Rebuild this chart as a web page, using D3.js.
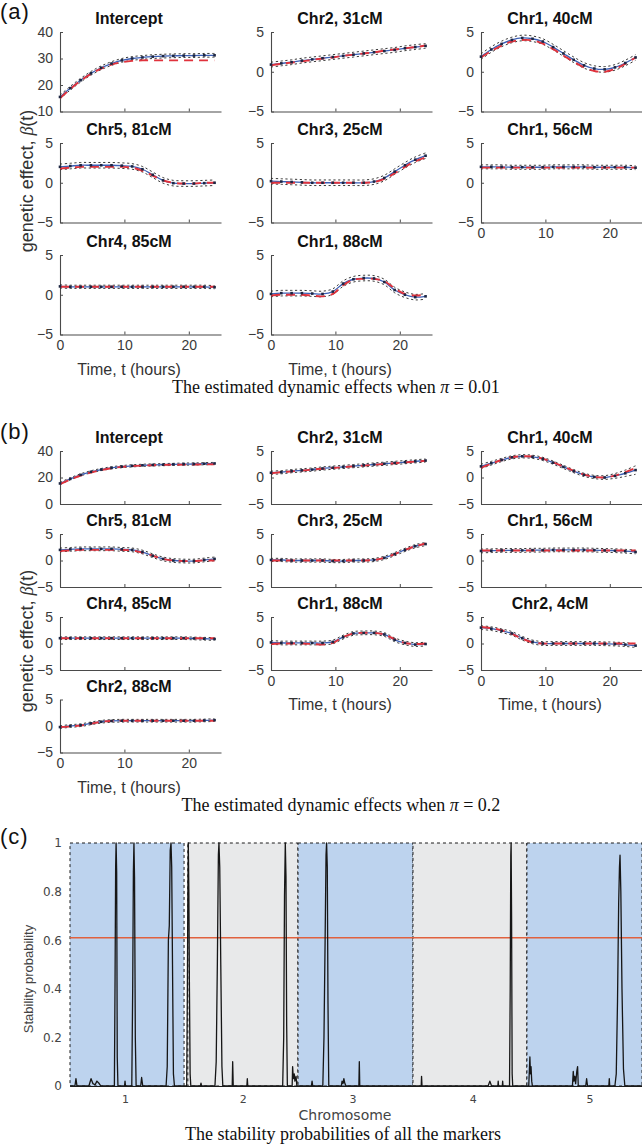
<!DOCTYPE html>
<html><head><meta charset="utf-8">
<script src="https://cdn.jsdelivr.net/npm/d3@7/dist/d3.min.js"></script>
<style>html,body{margin:0;padding:0;background:#fff}svg{display:block}</style>
</head><body>
<svg id="fig" width="642" height="1145"></svg>
<script>
// ================= DATA =================
const times = [0,1.6,3.2,4.8,6.4,8,9.6,11.2,12.8,14.4,16,17.6,19.2,20.8,22.4,24];
const timeTicks = [0,10,20];
const effectTicks = [-5,0,5];
const aInterceptTicks = [10,20,30,40];
const bInterceptTicks = [0,20,40];

// ---- panel (a): pi = 0.01 ----
const aTitles = ["Intercept","Chr5, 81cM","Chr4, 85cM","Chr2, 31cM","Chr3, 25cM","Chr1, 88cM","Chr1, 40cM","Chr1, 56cM"];
const aIntTrue  = [15,18.5,21.6,24.2,26.2,27.7,28.6,29.1,29.3,29.3,29.3,29.3,29.3,29.3,29.3,29.3];
const aIntEst   = [15.5,18.8,21.8,24.4,26.5,28.1,29.3,30,30.4,30.7,30.9,31,31.1,31.1,31.2,31.2];
const aC5True   = [1.8,1.9,2.0,2.0,2.0,2.0,2.0,1.9,1.5,0.9,0.3,0,-0.1,-0.1,0,0];
const aC5Est    = [2.0,2.1,2.2,2.2,2.2,2.2,2.15,2.05,1.7,1.0,0.3,-0.05,-0.1,-0.1,-0.05,0];
const aC4True   = [1,1,1,1,1,1,1,1,1,1,1,1,1,1,1,1];
const aC4Est    = [1.05,1.0,1.0,1.0,1.0,1.0,1.0,1.0,1.0,1.0,1.0,1.0,1.0,1.0,1.0,0.95];
const aC2_31True= [0.8,1.0,1.15,1.3,1.5,1.65,1.8,2.0,2.15,2.3,2.45,2.65,2.8,2.95,3.1,3.3];
const aC2_31Est = [0.9,1.05,1.2,1.4,1.55,1.7,1.85,2.0,2.15,2.3,2.45,2.6,2.75,2.95,3.1,3.25];
const aC3True   = [0,0,0,0,0,0,0,0,0,0,0.1,0.5,1.2,2.0,2.7,3.2];
const aC3Est    = [0.2,0.15,0.1,0.05,0,0,0,0,0,0,0.15,0.6,1.4,2.2,2.9,3.4];
const aC1_88True= [-0.1,0,0,0,-0.1,-0.2,0.1,1.2,1.9,2.0,2.0,1.7,0.8,0.1,-0.1,0];
const aC1_88Est = [0.1,0.2,0.2,0.2,0.15,0.1,0.4,1.4,1.95,2.1,2.05,1.6,0.6,0,-0.3,-0.2];
const aC1_40True= [1.8,2.6,3.3,3.8,4.0,3.95,3.55,2.85,2.05,1.25,0.55,0.1,0.0,0.35,1.0,1.8];
const aC1_40Est = [1.9,2.8,3.5,4.0,4.25,4.15,3.8,3.1,2.3,1.5,0.8,0.4,0.3,0.55,1.1,1.8];
const aC1_56True= [1.9,1.9,1.9,1.9,1.9,1.9,1.9,1.9,1.9,1.9,1.9,1.9,1.9,1.9,1.9,1.9];
const aC1_56Est = [2.0,2.0,2.0,1.95,1.95,1.95,1.95,2.0,2.0,2.0,2.0,1.95,1.95,1.95,1.95,1.9];
const aCI = [0.7,0.35,0.2,0.3,0.35,0.35,0.35,0.25];

// ---- panel (b): pi = 0.2 ----
const bTitles = ["Intercept","Chr5, 81cM","Chr4, 85cM","Chr2, 88cM","Chr2, 31cM","Chr3, 25cM","Chr1, 88cM","Chr1, 40cM","Chr1, 56cM","Chr2, 4cM"];
const bIntTrue  = [15,18.5,21.5,23.8,25.6,27,28,28.6,29,29.3,29.5,29.6,29.7,29.8,29.9,30];
const bIntEst   = [15.5,19,22,24.3,26,27.3,28.2,28.8,29.2,29.5,29.7,29.9,30.1,30.2,30.4,30.6];
const bC5True   = [1.8,1.9,2.0,2.0,2.0,2.0,2.0,1.9,1.5,0.9,0.3,0,-0.1,-0.1,0,0];
const bC5Est    = [2.0,2.1,2.2,2.2,2.2,2.2,2.1,2.0,1.6,0.9,0.3,0,-0.1,-0.1,0.1,0.3];
const bC4True   = [1,1,1,1,1,1,1,1,1,1,1,1,1,1,1,1];
const bC4Est    = [1.0,1.0,1.0,1.0,1.0,1.0,1.0,1.0,1.0,1.0,1.0,1.0,1.0,0.95,0.9,0.85];
const bC2_88True= [-0.2,-0.1,0.1,0.4,0.8,0.95,1,1,1,1,1,1,1,1,1,1];
const bC2_88Est = [-0.2,0,0.15,0.5,0.8,0.95,1.0,1.0,1.0,1.0,1.0,1.0,1.0,1.0,1.05,1.1];
const bC2_31True= [0.8,1.0,1.15,1.3,1.5,1.65,1.8,1.95,2.1,2.25,2.4,2.55,2.7,2.85,3.0,3.15];
const bC2_31Est = [0.9,1.0,1.2,1.35,1.5,1.7,1.85,2.0,2.15,2.3,2.45,2.6,2.75,2.9,3.05,3.2];
const bC3True   = [0,0,0,0,0,0,0,0,0,0,0.1,0.5,1.2,2.0,2.7,3.2];
const bC3Est    = [0.1,0.1,0,0,0,0,-0.1,-0.1,0,0,0.1,0.5,1.2,2.0,2.7,3.1];
const bC1_88True= [-0.1,0,0,0,-0.1,-0.2,0.1,1.2,1.9,2.0,2.0,1.7,0.8,0.1,-0.1,0];
const bC1_88Est = [0.2,0.1,0.1,0.1,0.1,0.1,0.3,1.2,1.9,2.0,2.0,1.7,0.7,0.1,-0.2,-0.1];
const bC1_40True= [1.8,2.6,3.3,3.8,4.0,3.95,3.55,2.85,2.05,1.25,0.55,0.1,0.0,0.35,1.0,1.8];
const bC1_40Est = [2.1,2.7,3.3,3.8,4.0,3.9,3.5,2.8,2.0,1.2,0.5,0.1,0.0,0.3,0.8,1.4];
const bC1_56True= [1.9,1.9,1.9,1.9,1.9,1.9,1.9,1.9,1.9,1.9,1.9,1.9,1.9,1.9,1.9,1.9];
const bC1_56Est = [1.8,1.85,1.9,1.9,1.9,1.95,1.95,2.0,2.0,2.0,2.0,1.95,1.9,1.85,1.75,1.6];
const bC2_4True = [3.1,2.9,2.5,1.8,0.9,0.2,0,0,0,0,0,0,0,0,0,0];
const bC2_4Est  = [3.0,2.8,2.4,1.9,1.0,0.3,0,0,0,0,0,0,-0.05,-0.1,-0.2,-0.4];
const bCI = [0.8,0.35,0.25,0.25,0.3,0.3,0.35,0.45,0.35,0.35];
const bC1_40CI = [0.4,0.35,0.3,0.3,0.3,0.3,0.3,0.3,0.3,0.3,0.3,0.3,0.35,0.45,0.6,0.8];

// ---- panel (c): stability probabilities (genome position, chromosome i spans ~[(i-1)*100, i*100]) ----
const chrLabels = ["1","2","3","4","5"];
const chrTickPos = [48,151,247,352,454];
const chrStart = [0,103,199.3,299.8,399.4];
const chrEnd   = [99.7,199.3,299.8,399.4,500];
const threshold = 0.61;
const probTicks = [0,0.2,0.4,0.6,0.8,1];
const markerPos = [
 0,4.3,5.2,6.1,16.5,18.4,20,22,23.5,25.5,27,38.8,39.4,39.9,40.3,40.8,41.3,41.9,47.7,48.1,48.5,
 54,54.8,55.4,55.9,56.4,57.1,57.8,61.8,62.6,63.6,84,85,86,86.8,87.6,88.3,88.9,89.6,90.4,91.3,
 102,102.6,103,103.4,103.9,104.4,105,105.6,114,114.5,115,126.7,127.8,128.8,129.7,130.2,130.9,131.8,132.8,133.6,
 141.8,142.2,142.7,154.6,155,155.4,185.9,186.8,187.5,188.2,188.8,189.4,190,194.2,194.6,195.2,196,196.6,197.6,198.3,
 211,211.6,212.2,221,222,223,223.8,224.3,224.9,225.5,226.2,237.2,237.8,238.6,239.4,240.3,241.2,252.5,252.9,253.3,
 307,307.3,307.7,365.5,367,368.5,374,374.3,374.6,377.9,378.2,378.5,384.2,384.8,385.3,385.6,386,386.5,387,
 401,401.5,402,402.5,403,403.6,404.2,439.2,439.9,440.5,441.3,442,443,443.7,444.3,450.8,451.6,452.4,471,471.4,471.8,
 476.3,477.5,478.6,479.6,480.3,480.8,481.5,482.5,483.8,485,500];
const markerProb = [
 0,0,0.03,0,0,0.03,0.01,0.005,0.02,0.01,0,0,0.45,0.9,1,0.88,0.12,0,0,0.02,0,
 0,0.4,0.88,1,0.86,0.2,0,0,0.035,0,0,0.08,0.6,0.66,0.97,1,0.9,0.5,0.05,0,
 0,0.4,0.78,1,0.8,0.4,0.05,0,0,0.012,0,0,0.1,0.5,0.95,1,0.9,0.5,0.08,0,
 0,0.1,0,0,0.03,0,0,0.2,0.78,1,0.86,0.25,0,0,0.08,0.03,0.05,0.02,0.04,0,
 0,0.02,0,0,0.2,0.6,0.95,1,0.9,0.35,0,0,0.02,0.01,0.03,0.01,0,0,0.1,0,
 0,0.04,0,0,0.02,0,0,0.02,0,0,0.02,0,0,0.4,0.95,1,0.7,0.05,0,
 0,0.06,0.12,0.05,0.08,0.02,0,0,0.06,0.02,0.04,0.01,0.06,0.08,0,0,0.03,0,0,0.03,0,
 0,0.05,0.35,0.75,0.9,0.95,0.8,0.4,0.07,0,0];

// ================= DRAWING =================
const svg = d3.select("#fig");
const SANS = "'Liberation Sans', Arial, Helvetica, sans-serif";
const SERIF = "'Liberation Serif', 'Times New Roman', serif";
const DEJAVU = "'DejaVu Sans', Verdana, sans-serif";
const colX = [60, 271, 481];
const plotW = 161;
const axisCol = "#4a4a4a";

function subplot(o){
  const g = svg.append("g");
  const x = d3.scaleLinear().domain([0,25]).range([o.x0, o.x0 + plotW]);
  const y = d3.scaleLinear().domain(o.yDomain).range([o.top + o.h, o.top]);

  g.append("text").attr("x", o.x0 + 69).attr("y", o.top - 8).attr("text-anchor","middle")
    .attr("font-family", SANS).attr("font-size", 16).attr("font-weight","bold").attr("fill","#111")
    .text(o.title);

  const ya = g.append("g").attr("transform", `translate(${o.x0},0)`)
    .call(d3.axisLeft(y).tickValues(o.yTicks).tickSizeInner(-3).tickSizeOuter(0).tickPadding(7));
  const xa = g.append("g").attr("transform", `translate(0,${o.top + o.h})`)
    .call(d3.axisBottom(x).tickValues(timeTicks).tickSizeInner(-3).tickSizeOuter(0).tickPadding(6)
      .tickFormat(o.showX ? d3.format("d") : () => ""));
  [ya, xa].forEach(a => {
    a.select(".domain").attr("stroke", axisCol).attr("stroke-width", 1.1);
    a.selectAll(".tick line").attr("stroke", axisCol);
    a.selectAll("text").attr("font-family", SANS).attr("font-size", 14).attr("fill", "#3a3a3a");
  });
  if (o.showXLabel) {
    g.append("text").attr("x", o.x0 + 69).attr("y", o.top + o.h + 40).attr("text-anchor","middle")
      .attr("font-family", SANS).attr("font-size", 16).attr("fill","#333").text("Time, t (hours)");
  }

  const line = d3.line().x((d,i) => x(times[i])).y(d => y(d)).curve(d3.curveCatmullRom.alpha(0.5));
  const ciAt = i => Array.isArray(o.ci) ? o.ci[i] : o.ci;
  const up = o.est.map((v,i) => v + ciAt(i));
  const lo = o.est.map((v,i) => v - ciAt(i));
  [up, lo].forEach(b => g.append("path").attr("d", line(b)).attr("fill","none")
    .attr("stroke","#222").attr("stroke-width",0.9).attr("stroke-dasharray","2.2,2.6"));
  g.append("path").attr("d", line(o.est)).attr("fill","none").attr("stroke","#3b5fb5").attr("stroke-width",1.3);
  g.append("path").attr("d", line(o.truth)).attr("fill","none").attr("stroke","#e0323c")
    .attr("stroke-width",1.9).attr("stroke-dasharray","9,6");
  g.selectAll("rect.m").data(o.est).join("rect").attr("class","m")
    .attr("x", (d,i) => x(times[i]) - 1.3).attr("y", d => y(d) - 1.3)
    .attr("width", 2.6).attr("height", 2.6).attr("fill", "#1d2642");
}

function panelLetter(txt, yb){
  svg.append("text").attr("x", 0).attr("y", yb).attr("font-family", SANS).attr("font-size", 22)
    .attr("fill","#111").attr("letter-spacing", 1).text(txt);
}
function yLabel(cy){
  const t = svg.append("text").attr("transform", `translate(33,${cy}) rotate(-90)`).attr("text-anchor","middle")
    .attr("font-family", SANS).attr("font-size", 18).attr("fill","#333");
  t.append("tspan").text("genetic effect, ");
  t.append("tspan").attr("font-family", SERIF).attr("font-style","italic").text("β");
  t.append("tspan").text("(t)");
}
function caption(txt, val, cx, yb){
  const t = svg.append("text").attr("x", cx).attr("y", yb).attr("text-anchor","middle")
    .attr("font-family", SERIF).attr("font-size", 18).attr("fill","#111");
  t.append("tspan").text(txt);
  t.append("tspan").attr("font-style","italic").text("π");
  t.append("tspan").text(" = " + val);
}

// ---- panel (a) ----
const aTrue = [aIntTrue,aC5True,aC4True,aC2_31True,aC3True,aC1_88True,aC1_40True,aC1_56True];
const aEst  = [aIntEst,aC5Est,aC4Est,aC2_31Est,aC3Est,aC1_88Est,aC1_40Est,aC1_56Est];
const aCol = [0,0,0,1,1,1,2,2], aRow = [0,1,2,0,1,2,0,1];
const aTops = [32,143,255], aH = 79.5;
const aLastRow = [2,2,1];
aTitles.forEach((t,k) => {
  const isInt = k === 0;
  subplot({title:t, truth:aTrue[k], est:aEst[k], ci:aCI[k],
    yDomain: isInt ? [10,40] : [-5,5], yTicks: isInt ? aInterceptTicks : effectTicks,
    x0: colX[aCol[k]], top: aTops[aRow[k]], h: aH,
    showX: aRow[k] === aLastRow[aCol[k]], showXLabel: aRow[k] === aLastRow[aCol[k]] && aCol[k] < 2});
});
panelLetter("(a)", 19);
yLabel(181);
caption("The estimated dynamic effects when ", "0.01", 336, 393);

// ---- panel (b) ----
const bTrue = [bIntTrue,bC5True,bC4True,bC2_88True,bC2_31True,bC3True,bC1_88True,bC1_40True,bC1_56True,bC2_4True];
const bEst  = [bIntEst,bC5Est,bC4Est,bC2_88Est,bC2_31Est,bC3Est,bC1_88Est,bC1_40Est,bC1_56Est,bC2_4Est];
const bCol = [0,0,0,0,1,1,1,2,2,2], bRow = [0,1,2,3,0,1,2,0,1,2];
const bTops = [451,534,617,699.5], bH = 53;
const bLastRow = [3,2,2];
bTitles.forEach((t,k) => {
  const isInt = k === 0;
  subplot({title:t, truth:bTrue[k], est:bEst[k], ci: k === 7 ? bC1_40CI : bCI[k],
    yDomain: isInt ? [0,40] : [-5,5], yTicks: isInt ? bInterceptTicks : effectTicks,
    x0: colX[bCol[k]], top: bTops[bRow[k]], h: bH,
    showX: bRow[k] === bLastRow[bCol[k]], showXLabel: bRow[k] === bLastRow[bCol[k]]});
});
panelLetter("(b)", 439);
yLabel(641);
caption("The estimated dynamic effects when ", "0.2", 341, 811);

// ---- panel (c) ----
(function(){
  const g = svg.append("g");
  const x = d3.scaleLinear().domain([0,500]).range([70,642]);
  const y = d3.scaleLinear().domain([0,1]).range([1086,843]);
  g.selectAll("rect.chr").data(chrStart).join("rect").attr("class","chr")
    .attr("x", d => x(d)).attr("y", y(1)).attr("width", (d,i) => x(chrEnd[i]) - x(d)).attr("height", y(0) - y(1))
    .attr("fill", (d,i) => i % 2 === 0 ? "#bdd3ee" : "#e8e9ea")
    .attr("stroke", "#1a1a1a").attr("stroke-width", 1).attr("stroke-dasharray", "3,3");
  g.append("line").attr("x1", x(0)).attr("x2", x(500)).attr("y1", y(threshold)).attr("y2", y(threshold))
    .attr("stroke", "#e0613e").attr("stroke-width", 1.3);
  const pts = markerPos.map((p,i) => [p, markerProb[i]]);
  g.append("path").attr("d", d3.line().x(d => x(d[0])).y(d => y(d[1]))(pts))
    .attr("fill","none").attr("stroke","#161616").attr("stroke-width",1.3).attr("stroke-linejoin","round");
  const xa = g.append("g").attr("transform", `translate(0,${y(0)})`)
    .call(d3.axisBottom(x).tickValues(chrTickPos).tickFormat((d,i) => chrLabels[i]).tickSize(0).tickPadding(9));
  xa.select(".domain").attr("stroke","#1a1a1a").attr("stroke-width",1.2);
  xa.selectAll("text").attr("font-family", DEJAVU).attr("font-size", 11).attr("fill","#444");
  const ya = g.append("g").attr("transform", `translate(${x(0) - 4},0)`)
    .call(d3.axisLeft(y).tickValues(probTicks).tickFormat(d3.format("~g")).tickSize(0).tickPadding(4));
  ya.select(".domain").remove();
  ya.selectAll("text").attr("font-family", DEJAVU).attr("font-size", 12).attr("fill","#444");
  g.append("text").attr("x", 345).attr("y", 1120).attr("text-anchor","middle")
    .attr("font-family", DEJAVU).attr("font-size", 14).attr("fill","#444").text("Chromosome");
  g.append("text").attr("transform", "translate(33,979) rotate(-90)").attr("text-anchor","middle")
    .attr("font-family", SANS).attr("font-size", 13).attr("fill","#444").text("Stability probability");
  g.append("text").attr("x", 343).attr("y", 1140).attr("text-anchor","middle")
    .attr("font-family", SERIF).attr("font-size", 18).attr("fill","#111").text("The stability probabilities of all the markers");
})();
panelLetter("(c)", 844);
</script>
</body></html>
